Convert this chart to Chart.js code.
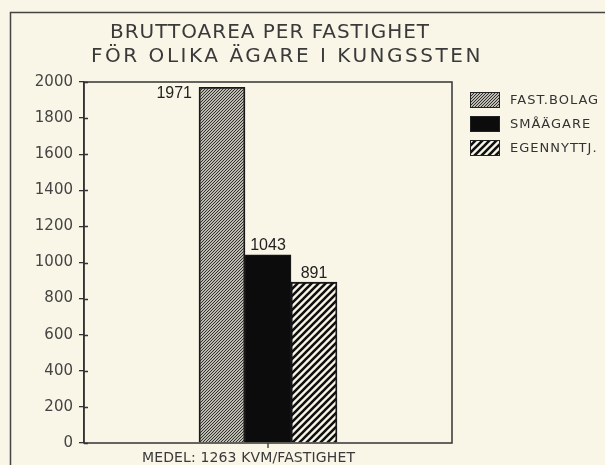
<!DOCTYPE html>
<html>
<head>
<meta charset="utf-8">
<script src="https://cdn.jsdelivr.net/npm/chart.js@4/dist/chart.umd.min.js"></script>
<style>
  html, body { margin: 0; padding: 0; background: #f9f6e8; }
  #wrap { width: 605px; height: 465px; }
</style>
</head>
<body>
<div id="wrap"><canvas id="chart" width="605" height="465"></canvas></div>
<script>
// data
const owners = ['FAST.BOLAG', 'SMÅÄGARE', 'EGENNYTTJ.'];
const areaPerProperty = [1971, 1043, 891];
const yTicks = [0, 200, 400, 600, 800, 1000, 1200, 1400, 1600, 1800, 2000];
const titleLines = ['BRUTTOAREA PER FASTIGHET', 'FÖR OLIKA ÄGARE I KUNGSSTEN'];
const meanArea = 1263;

const ink = '#333';
const paper = '#f9f6e8';

// diagonal hatch as a canvas pattern
function hatch(size, lineWidth, color) {
    const c = document.createElement('canvas');
    c.width = size; c.height = size;
    const g = c.getContext('2d');
    g.strokeStyle = color;
    g.lineWidth = lineWidth;
    g.beginPath();
    g.moveTo(0, size); g.lineTo(size, 0);
    g.moveTo(-size / 2, size / 2); g.lineTo(size / 2, -size / 2);
    g.moveTo(size / 2, size * 1.5); g.lineTo(size * 1.5, size / 2);
    g.stroke();
    return g.createPattern(c, 'repeat');
}

const fills = [hatch(3, 1.1, '#262626'), '#0c0c0c', hatch(7, 2.6, '#111')];

// draw text stretched to a given width (plotter lettering is wide)
function spacedText(ctx, text, x, y, width) {
    ctx.letterSpacing = '0px';
    const w = ctx.measureText(text).width;
    const extra = (width - w) / text.length;
    ctx.letterSpacing = extra.toFixed(2) + 'px';
    ctx.fillText(text, x, y);
    ctx.letterSpacing = '0px';
}

const paperPlugin = {
    id: 'paper',
    beforeDraw(chart) {
        const ctx = chart.ctx;
        ctx.save();
        ctx.fillStyle = paper;
        ctx.fillRect(0, 0, chart.width, chart.height);
        // outer frame
        ctx.strokeStyle = '#444';
        ctx.lineWidth = 1.5;
        ctx.strokeRect(10.5, 12.5, 700, 600);
        // title
        ctx.fillStyle = '#3a3a3a';
        ctx.font = '20px "DejaVu Sans"';
        ctx.textBaseline = 'middle';
        ctx.textAlign = 'left';
        spacedText(ctx, titleLines[0], 110, 33, 320);
        spacedText(ctx, titleLines[1], 91, 57, 392);
        ctx.restore();
    },
    afterDatasetsDraw(chart) {
        const ctx = chart.ctx;
        const a = chart.chartArea;
        ctx.save();
        // plot border
        ctx.strokeStyle = ink;
        ctx.lineWidth = 1.5;
        ctx.strokeRect(a.left, a.top, a.right - a.left, a.bottom - a.top);
        // inner half of the cross ticks
        const y = chart.scales.y;
        ctx.lineWidth = 1.3;
        ctx.beginPath();
        yTicks.forEach(v => {
            const py = Math.round(y.getPixelForValue(v)) + 0.5;
            ctx.moveTo(a.left, py); ctx.lineTo(a.left + 4, py);
        });
        // category tick under the bars
        const cx = chart.scales.x.getPixelForValue(0);
        ctx.moveTo(cx, a.bottom); ctx.lineTo(cx, a.bottom + 5);
        ctx.stroke();

        // value labels
        ctx.fillStyle = '#222';
        ctx.font = '16px "Liberation Sans Narrow", "Liberation Sans"';
        ctx.textBaseline = 'middle';
        chart.data.datasets.forEach((ds, i) => {
            const bar = chart.getDatasetMeta(i).data[0];
            const txt = String(ds.data[0]);
            if (i === 0) {
                ctx.textAlign = 'right';
                ctx.fillText(txt, bar.x - bar.width / 2 - 7, bar.y + 6);
            } else {
                ctx.textAlign = 'center';
                ctx.fillText(txt, bar.x, bar.y - 9);
            }
        });

        // legend
        ctx.textAlign = 'left';
        ctx.font = '13px "DejaVu Sans"';
        chart.data.datasets.forEach((ds, i) => {
            const cy = 100 + i * 24;
            ctx.fillStyle = ds.backgroundColor;
            ctx.fillRect(470, cy - 8, 30, 16);
            ctx.strokeStyle = '#222';
            ctx.lineWidth = 1;
            ctx.strokeRect(470.5, cy - 7.5, 29, 15);
            ctx.fillStyle = '#333';
            ctx.letterSpacing = '1px';
            ctx.fillText(ds.label, 510, cy + 1);
            ctx.letterSpacing = '0px';
        });

        // footnote
        ctx.font = '14px "DejaVu Sans"';
        ctx.fillStyle = '#3a3a3a';
        spacedText(ctx, 'MEDEL: ' + meanArea + ' KVM/FASTIGHET', 142, 458, 213);
        ctx.restore();
    }
};

const ctx = document.getElementById('chart').getContext('2d');
new Chart(ctx, {
    type: 'bar',
    data: {
        labels: [''],
        datasets: owners.map((name, i) => ({
            label: name,
            data: [areaPerProperty[i]],
            backgroundColor: fills[i],
            borderColor: '#1a1a1a',
            borderWidth: 1.2,
            barThickness: 46
        }))
    },
    options: {
        responsive: false,
        animation: false,
        layout: { padding: { left: 10, right: 153, top: 82, bottom: 22 } },
        plugins: {
            legend: { display: false },
            tooltip: { enabled: false }
        },
        scales: {
            x: { display: false },
            y: {
                min: 0,
                max: 2000,
                afterBuildTicks: s => { s.ticks = yTicks.map(v => ({ value: v })); },
                afterFit: s => { s.width = 74; },
                grid: { drawOnChartArea: false, tickLength: 5, color: ink, lineWidth: 1.3 },
                border: { color: ink, width: 1.5 },
                ticks: {
                    padding: 6,
                    color: '#444',
                    font: { family: 'DejaVu Sans', size: 15 },
                    callback: v => String(v)
                }
            }
        }
    },
    plugins: [paperPlugin]
});
</script>
</body>
</html>
